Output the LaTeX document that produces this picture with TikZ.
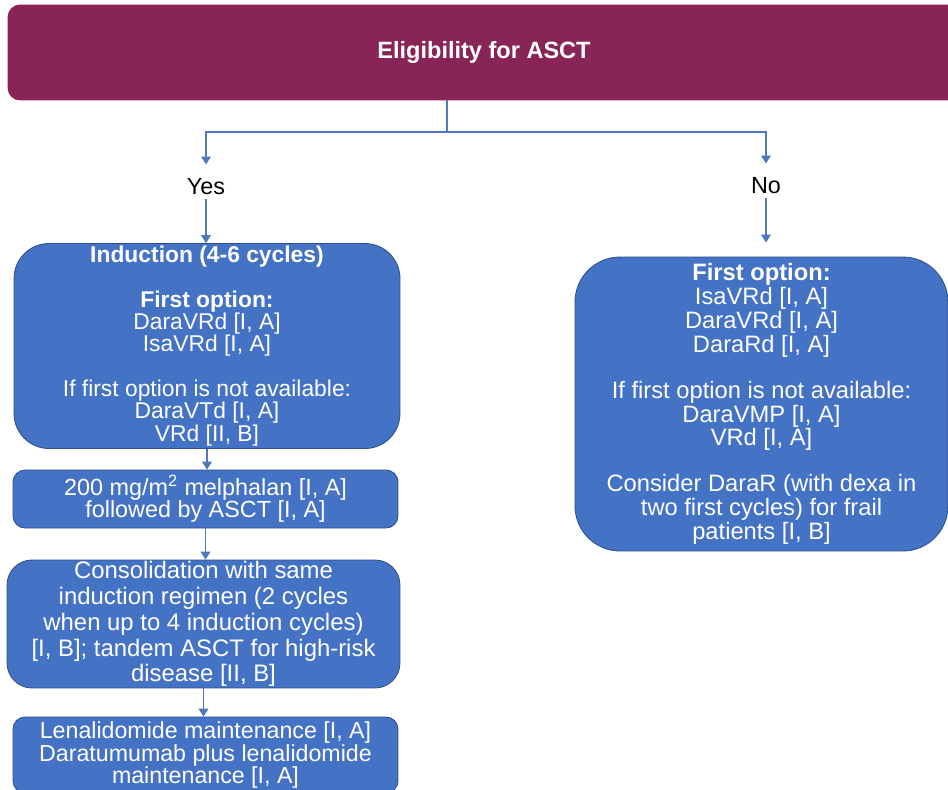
\documentclass[tikz,border=0pt]{standalone}
\usepackage{fontspec}
\setmainfont{Liberation Sans}
\usepackage{xcolor}
\usepackage{tikz}
\usetikzlibrary{arrows.meta}

\definecolor{plum}{RGB}{137,36,87}
\definecolor{boxblue}{RGB}{68,114,196}
\definecolor{edgeblue}{RGB}{47,82,143}
\definecolor{linkblue}{RGB}{79,120,190}

\begin{document}
\begin{tikzpicture}[x=0.02cm, y=-0.02cm,
    link/.style={draw=linkblue, line width=0.8pt},
    arr/.style={link, -{Triangle[width=5.5pt,length=4.5pt]}},
    optbox/.style={draw=edgeblue, line width=0.5pt, fill=boxblue, text=white, align=center, inner sep=0pt},
    lbl/.style={font=\fontsize{13.3}{13}\selectfont, inner sep=2pt}]
      \clip (0,0) rectangle (948,789);
      \fill[white] (0,0) rectangle (948,789);
      \node[optbox, fill=plum, draw=plum, rounded corners=0.24cm, minimum width=19.04cm, minimum height=1.9cm,
        font=\bfseries\fontsize{13.4}{15}\selectfont] (elig) at (484,52.5) {Eligibility for ASCT};
      \node[lbl] (yes) at (206,187) {Yes};
      \node[lbl] (no) at (766,186) {No};
      \node[optbox, rounded corners=0.7cm, minimum width=7.72cm, minimum height=4.1cm,
        font=\fontsize{13}{12.7}\selectfont] (ind) at (207,346)
        {\textbf{Induction (4-6 cycles)}\\[12.7pt]
         \textbf{First option:}\\ DaraVRd [I, A]\\ IsaVRd [I, A]\\[12.7pt]
         If first option is not available:\\ DaraVTd [I, A]\\ VRd [II, B]};
      \node[optbox, rounded corners=0.24cm, minimum width=7.7cm, minimum height=1.16cm,
        font=\fontsize{13.3}{12.5}\selectfont] (mel) at (205.5,499)
        {200 mg/m\textsuperscript{2} melphalan [I, A]\\ followed by ASCT [I, A]};
      \node[optbox, rounded corners=0.5cm, minimum width=7.86cm, minimum height=2.56cm,
        font=\fontsize{13.6}{14.7}\selectfont] (cons) at (203.5,624)
        {Consolidation with same\\ induction regimen (2 cycles\\ when up to 4 induction cycles)\\
         {[I, B]}; tandem ASCT for high-risk\\ disease [II, B]};
      \node[optbox, rounded corners=0.24cm, minimum width=7.7cm, minimum height=1.52cm,
        font=\fontsize{13.2}{12.9}\selectfont] (maint) at (205.5,755)
        {Lenalidomide maintenance [I, A]\\ Daratumumab plus lenalidomide\\ maintenance [I, A]};
      \node[optbox, rounded corners=0.9cm, minimum width=7.46cm, minimum height=5.88cm,
        font=\fontsize{13.5}{12.5}\selectfont] (nob) at (761.5,404)
        {\textbf{First option:}\\ IsaVRd [I, A]\\ DaraVRd [I, A]\\ DaraRd [I, A]\\[12.5pt]
         If first option is not available:\\ DaraVMP [I, A]\\ VRd [I, A]\\[12.5pt]
         Consider DaraR (with dexa in\\ two first cycles) for frail\\ patients [I, B]};
      \coordinate (split) at (447,132);
      \draw[link] (elig.south -| split) -- (split);
      \draw[arr, shorten >=6pt] (split) -| (yes);
      \draw[arr, shorten >=6pt] (split) -| (no);
      \draw[arr] (yes.south) -- (yes.south |- ind.north);
      \draw[arr, shorten >=8pt] (no.south) -- (no.south |- nob.north);
      \draw[arr] (ind.south) -- (ind.south |- mel.north);
      \draw[arr] (mel.south) -- (mel.south |- cons.north);
      \draw[arr] (cons.south) -- (cons.south |- maint.north);
    \end{tikzpicture}
\end{document}
